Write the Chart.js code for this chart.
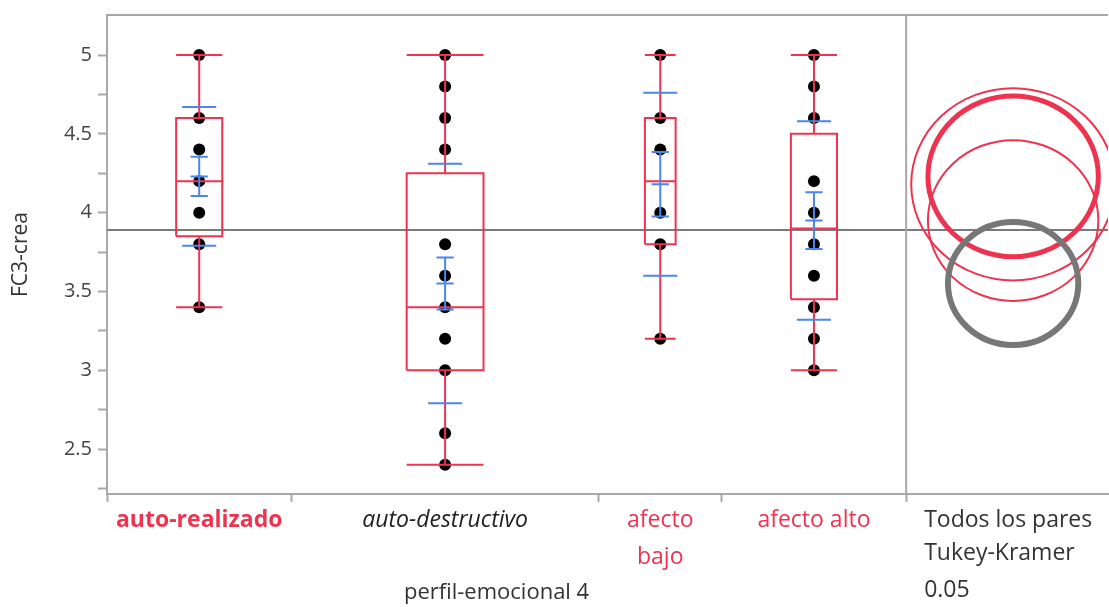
<!DOCTYPE html>
<html>
<head>
<meta charset="utf-8">
<script src="https://cdn.jsdelivr.net/npm/chart.js@4/dist/chart.umd.min.js"></script>
<style>
  html, body { margin: 0; padding: 0; background: #fff; overflow: hidden; }
  /* a little wider than the window: the plot runs to the right edge like the original */
  #wrap { width: 1114px; height: 607px; position: relative; }
</style>
</head>
<body>
<div id="wrap"><canvas id="chart"></canvas></div>
<script>
// Oneway plot: FC3-crea by perfil-emocional 4
const categories = ['auto-realizado', 'auto-destructivo', 'afecto bajo', 'afecto alto'];
const categoryLabels = [['auto-realizado'], ['auto-destructivo'], ['afecto', 'bajo'], ['afecto alto']];
const groupSpan = [9, 15, 6, 9];

const pointsRealizado = [5, 4.6, 4.4, 4.2, 4.0, 3.8, 3.4];
const pointsDestructivo = [5, 4.8, 4.6, 4.4, 3.8, 3.6, 3.4, 3.2, 3.0, 2.6, 2.4];
const pointsBajo = [5, 4.6, 4.4, 4.0, 3.8, 3.2];
const pointsAlto = [5, 4.8, 4.6, 4.2, 4.0, 3.8, 3.6, 3.4, 3.2, 3.0];
const groupPoints = [pointsRealizado, pointsDestructivo, pointsBajo, pointsAlto];

const boxMin = [3.4, 2.4, 3.2, 3.0];
const boxQ1 = [3.85, 3.0, 3.8, 3.45];
const boxMedian = [4.2, 3.4, 4.2, 3.9];
const boxQ3 = [4.6, 4.25, 4.6, 4.5];
const boxMax = [5, 5, 5, 5];

const groupMean = [4.23, 3.55, 4.18, 3.95];
const groupStd = [0.44, 0.76, 0.58, 0.63];
const meanErr = [0.125, 0.165, 0.205, 0.18];
const circleRadius = [0.51, 0.39, 0.61, 0.51];
const grandMean = 3.89;

const yTickValues = [2.25, 2.5, 2.75, 3, 3.25, 3.5, 3.75, 4, 4.25, 4.5, 4.75, 5];
const yMin = 2.215;
const yMax = 5.254;

const panelText = ['Todos los pares', 'Tukey-Kramer', '0.05'];

// styles
const RED = '#ee3350';
const BLUE = '#4a86ee';
const AXIS_GRAY = '#a8a8a8';
const FONT = '"Open Sans", "Noto Sans", sans-serif';
const circleStyle = [
  { color: RED, width: 5 },
  { color: '#777777', width: 6 },
  { color: RED, width: 2 },
  { color: RED, width: 2 }
];

// x layout in group units
const totalSpan = groupSpan.reduce((a, b) => a + b, 0);
const panelSpan = 9.85;
const xMax = totalSpan + panelSpan;
const circleX = totalSpan + panelSpan * 0.53;
const starts = groupSpan.map((s, i) => groupSpan.slice(0, i).reduce((a, b) => a + b, 0));
const centers = starts.map((s, i) => s + groupSpan[i] / 2);
const boundaries = [...starts, totalSpan];
const stdHalf = 0.83;
const errHalf = 0.42;

function seg(arr, x1, y1, x2, y2) {
  arr.push({ x: x1, y: y1 }, { x: x2, y: y2 }, { x: x2, y: null });
}

const redSegs = [];
const blueSegs = [];
const dots = [];
categories.forEach((c, i) => {
  const cx = centers[i];
  const half = groupSpan[i] * 0.125;
  // box outline
  redSegs.push(
    { x: cx - half, y: boxQ1[i] }, { x: cx + half, y: boxQ1[i] },
    { x: cx + half, y: boxQ3[i] }, { x: cx - half, y: boxQ3[i] },
    { x: cx - half, y: boxQ1[i] }, { x: cx - half, y: null }
  );
  seg(redSegs, cx - half, boxMedian[i], cx + half, boxMedian[i]);
  seg(redSegs, cx, boxQ3[i], cx, boxMax[i]);
  seg(redSegs, cx, boxQ1[i], cx, boxMin[i]);
  seg(redSegs, cx - half, boxMax[i], cx + half, boxMax[i]);
  seg(redSegs, cx - half, boxMin[i], cx + half, boxMin[i]);

  const m = groupMean[i];
  seg(blueSegs, cx - stdHalf, m + groupStd[i], cx + stdHalf, m + groupStd[i]);
  seg(blueSegs, cx - stdHalf, m - groupStd[i], cx + stdHalf, m - groupStd[i]);
  seg(blueSegs, cx, m - meanErr[i], cx, m + meanErr[i]);
  seg(blueSegs, cx - errHalf, m + meanErr[i], cx + errHalf, m + meanErr[i]);
  seg(blueSegs, cx - errHalf, m - meanErr[i], cx + errHalf, m - meanErr[i]);
  seg(blueSegs, cx - errHalf, m, cx + errHalf, m);

  groupPoints[i].forEach(v => dots.push({ x: cx, y: v }));
});

const centerIndex = v => centers.findIndex(c => Math.abs(c - v) < 1e-9);

const framePlugin = {
  id: 'frame',
  afterDatasetsDraw(chart) {
    const { ctx, chartArea, scales: { x, y } } = chart;
    const sep = x.getPixelForValue(totalSpan);
    ctx.save();
    ctx.strokeStyle = AXIS_GRAY;
    ctx.lineWidth = 2;
    ctx.beginPath();
    ctx.moveTo(chartArea.left, chartArea.top);
    ctx.lineTo(chartArea.right, chartArea.top);
    ctx.moveTo(sep, chartArea.top);
    ctx.lineTo(sep, chartArea.bottom);
    ctx.stroke();

    // comparison circles
    ctx.beginPath();
    ctx.rect(sep, chartArea.top, chartArea.right - sep, chartArea.bottom - chartArea.top);
    ctx.clip();
    const cxPx = x.getPixelForValue(circleX);
    [2, 3, 0, 1].forEach(i => {
      const cy = y.getPixelForValue(groupMean[i]);
      const ry = Math.abs(y.getPixelForValue(groupMean[i] + circleRadius[i]) - cy);
      ctx.strokeStyle = circleStyle[i].color;
      ctx.lineWidth = circleStyle[i].width;
      ctx.beginPath();
      ctx.ellipse(cxPx, cy, ry * 1.06, ry, 0, 0, Math.PI * 2);
      ctx.stroke();
    });
    ctx.restore();

    // panel caption and x title
    ctx.save();
    ctx.fillStyle = '#333';
    ctx.font = '23px ' + FONT;
    ctx.textAlign = 'left';
    ctx.textBaseline = 'middle';
    const rowsY = [520, 553, 590];
    panelText.forEach((t, i) => ctx.fillText(t, sep + 18, rowsY[i]));
    ctx.textAlign = 'center';
    ctx.font = '22px ' + FONT;
    ctx.fillText('perfil-emocional 4', (x.getPixelForValue(0) + sep) / 2 - 10, 593);
    ctx.restore();
  }
};

new Chart(document.getElementById('chart'), {
  type: 'scatter',
  data: {
    datasets: [
      { data: blueSegs, showLine: true, borderColor: BLUE, borderWidth: 2, pointRadius: 0, spanGaps: false, order: 1 },
      { data: redSegs, showLine: true, borderColor: RED, borderWidth: 2, pointRadius: 0, spanGaps: false, order: 2 },
      { data: dots, showLine: false, pointRadius: 6, pointBackgroundColor: '#000', pointBorderWidth: 0, order: 3 },
      { data: [{ x: 0, y: grandMean }, { x: xMax, y: grandMean }], showLine: true, borderColor: '#7a7a7a', borderWidth: 2, pointRadius: 0, order: 4 }
    ]
  },
  options: {
    responsive: true,
    maintainAspectRatio: false,
    animation: false,
    layout: { padding: { top: 15, right: 0, bottom: 0, left: 0 } },
    plugins: { legend: { display: false }, tooltip: { enabled: false } },
    scales: {
      x: {
        type: 'linear',
        min: 0,
        max: xMax,
        afterBuildTicks: scale => {
          scale.ticks = [...boundaries, ...centers].sort((a, b) => a - b).map(v => ({ value: v }));
        },
        afterFit: scale => {
          scale.height = 113;
          scale.paddingLeft = 0;
          scale.paddingRight = 0;
        },
        border: { display: true, color: AXIS_GRAY, width: 2 },
        grid: {
          drawOnChartArea: false,
          tickLength: 8,
          tickWidth: 2,
          tickColor: ctx => (ctx.tick && centerIndex(ctx.tick.value) >= 0 ? 'rgba(0,0,0,0)' : AXIS_GRAY)
        },
        ticks: {
          autoSkip: false,
          maxRotation: 0,
          padding: 0,
          callback: value => {
            const i = centerIndex(value);
            return i >= 0 ? categoryLabels[i] : '';
          },
          color: ctx => (ctx.tick && centerIndex(ctx.tick.value) === 1 ? '#222' : RED),
          font: ctx => {
            const i = ctx.tick ? centerIndex(ctx.tick.value) : -1;
            return {
              family: FONT,
              size: 23,
              lineHeight: 37 / 23,
              weight: i === 0 ? 'bold' : 'normal',
              style: i === 1 ? 'italic' : 'normal'
            };
          }
        }
      },
      y: {
        type: 'linear',
        min: yMin,
        max: yMax,
        afterBuildTicks: scale => { scale.ticks = yTickValues.map(v => ({ value: v })); },
        afterFit: scale => {
          scale.width = 107;
          scale.paddingTop = 0;
          scale.paddingBottom = 0;
        },
        border: { display: true, color: AXIS_GRAY, width: 2 },
        grid: { drawOnChartArea: false, tickLength: 9, tickWidth: 2, tickColor: AXIS_GRAY },
        ticks: {
          padding: 6,
          color: '#444',
          font: { family: FONT, size: 20 },
          callback: value => (Math.abs(value * 2 - Math.round(value * 2)) < 1e-9 ? String(value) : '')
        },
        title: {
          display: true,
          text: 'FC3-crea',
          color: '#333',
          font: { family: FONT, size: 21 },
          padding: { top: 8, bottom: 0 }
        }
      }
    }
  },
  plugins: [framePlugin]
});
</script>
</body>
</html>
